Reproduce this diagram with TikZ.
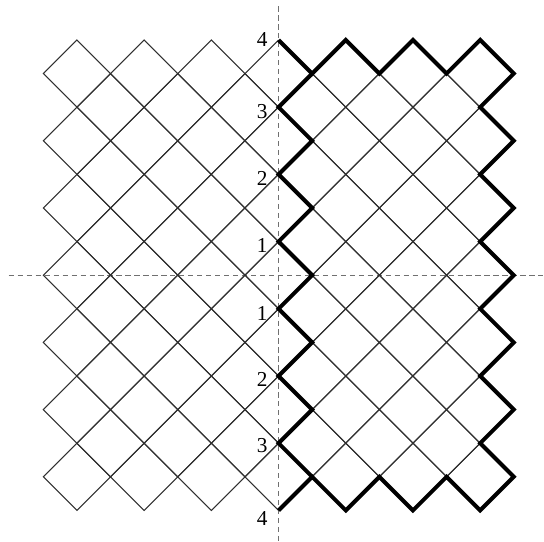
\documentclass[tikz,border=0pt]{standalone}
\usepackage{fontspec}
\setmainfont{Liberation Serif}
\usetikzlibrary{arrows.meta,positioning}
\definecolor{axisgray}{HTML}{707070}
\definecolor{gridink}{HTML}{303030}
\tikzset{
  gridline/.style={gridink,line width=0.45pt},
  outline/.style={black,line width=1.7pt,line join=miter},
  axisline/.style={axisgray,line width=0.5pt,dash pattern=on 2.2pt off 1.6pt},
  lab/.style={anchor=east,inner sep=0pt,xshift=-4.5pt,font=\fontsize{9}{11}\selectfont}
}
\begin{document}
\begin{tikzpicture}[x=5mm,y=5mm,>=Latex]
\useasboundingbox (-8.29,-7.94) rectangle (7.90,8.19);
% axes
\draw[axisline] (-8.03,0) -- (7.90,0);
\draw[axisline] (0,8.0) -- (0,-7.94);
% left lattice
\foreach \cx in {-6,...,-1} {
  \foreach \cy in {-6,...,6} {
    \pgfmathtruncatemacro{\parity}{mod(\cx+\cy+20,2)}
    \ifnum\parity=0
      \draw[gridline] (\cx-1,\cy) -- (\cx,\cy+1) -- (\cx+1,\cy) -- (\cx,\cy-1) -- cycle;
    \fi
  }
}
\foreach \cy in {-6,-4,...,6}
  \draw[gridline] (0,\cy+1) -- (-1,\cy) -- (0,\cy-1);
% right lattice
\foreach \cx in {1,...,6} {
  \foreach \cy in {-6,...,6} {
    \pgfmathtruncatemacro{\parity}{mod(\cx+\cy+20,2)}
    \ifnum\parity=0
      \draw[gridline] (\cx-1,\cy) -- (\cx,\cy+1) -- (\cx+1,\cy) -- (\cx,\cy-1) -- cycle;
    \fi
  }
}
% bold boundary of the right part
\draw[outline] (0,7) \foreach \x in {1,3,5} {-- (\x,6) -- (\x+1,7)} -- (7,6)
  \foreach \y in {6,4,...,-4} {-- (6,\y-1) -- (7,\y-2)}
  \foreach \x in {7,5,3} {-- (\x-1,-7) -- (\x-2,-6)} -- (0,-7);
\draw[outline] (1,-6) \foreach \y in {-6,-4,...,4} {-- (0,\y+1) -- (1,\y+2)};
% labels
\node[lab] (t4) at (0,7) {4};
\node[lab,yshift=-1.8pt] (t3) at (0,5) {3};
\node[lab,yshift=-1.8pt] (t2) at (0,3) {2};
\node[lab,yshift=-1.6pt] (t1) at (0,1) {1};
\node[lab,yshift=-1.8pt] (b1) at (0,-1) {1};
\node[lab,yshift=-1.4pt] (b2) at (0,-3) {2};
\node[lab,yshift=-1.0pt] (b3) at (0,-5) {3};
\node[lab,yshift=-3.4pt] (b4) at (0,-7) {4};
\end{tikzpicture}
\end{document}
